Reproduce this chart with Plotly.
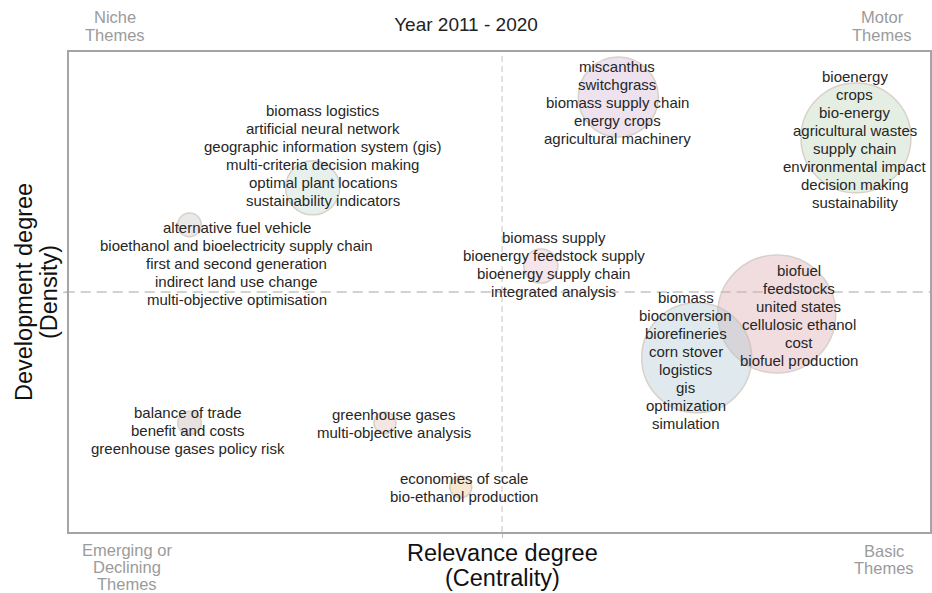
import plotly.graph_objects as go

# ---------------- data ----------------
cluster_labels = [
    ["biomass logistics", "artificial neural network", "geographic information system (gis)",
     "multi-criteria decision making", "optimal plant locations", "sustainability indicators"],
    ["alternative fuel vehicle", "bioethanol and bioelectricity supply chain",
     "first and second generation", "indirect land use change", "multi-objective optimisation"],
    ["miscanthus", "switchgrass", "biomass supply chain", "energy crops", "agricultural machinery"],
    ["bioenergy", "crops", "bio-energy", "agricultural wastes", "supply chain",
     "environmental impact", "decision making", "sustainability"],
    ["biomass supply", "bioenergy feedstock supply", "bioenergy supply chain", "integrated analysis"],
    ["biofuel", "feedstocks", "united states", "cellulosic ethanol", "cost", "biofuel production"],
    ["biomass", "bioconversion", "biorefineries", "corn stover", "logistics", "gis",
     "optimization", "simulation"],
    ["balance of trade", "benefit and costs", "greenhouse gases policy risk"],
    ["greenhouse gases", "multi-objective analysis"],
    ["economies of scale", "bio-ethanol production"],
]
centrality = [2.83, 1.40, 6.38, 9.14, 5.48, 8.22, 7.29, 1.40, 3.67, 4.55]
density = [7.17, 6.40, 9.06, 8.21, 5.54, 4.54, 3.63, 2.27, 2.27, 0.94]
frequency = [73, 14, 160, 302, 29, 348, 302, 14, 12, 12]
centrality_median = 5.03
density_median = 5.0

title_text = "Year 2011 - 2020"
x_title = ["Relevance degree", "(Centrality)"]
y_title = ["Development degree", "(Density)"]

# ---------------- styles ----------------
fill_colors = [
    "rgba(185,217,209,0.5)", "rgba(193,193,193,0.5)", "rgba(205,173,209,0.5)",
    "rgba(181,209,173,0.5)", "rgba(229,185,209,0.5)", "rgba(217,161,165,0.5)",
    "rgba(169,197,209,0.5)", "rgba(189,173,165,0.5)", "rgba(229,185,177,0.5)",
    "rgba(235,189,125,0.5)",
]
# label block offsets (pixels) relative to bubble centre: (dx right, dy up)
label_offsets = [(10, 32), (47, -39), (-1, -5), (-1, -2), (13, 2),
                 (22, -1), (-11, -3), (-2, -7), (9, 0), (3, -1)]
FONT = "Liberation Sans, Arial, Helvetica, sans-serif"
LINE_H = 18

fig = go.Figure()

fig.add_trace(go.Scatter(
    x=centrality, y=density, mode="markers",
    marker=dict(size=frequency, sizemode="area", sizeref=0.05,
                color=fill_colors, line=dict(color="rgb(200,190,180)", width=1.5)),
    hoverinfo="skip", showlegend=False,
))

# median lines
fig.add_shape(type="line", xref="paper", yref="y", x0=-0.005, x1=1, y0=density_median, y1=density_median,
              line=dict(color="rgb(195,195,195)", width=1.3, dash="10px,6px"), layer="below")
fig.add_shape(type="line", xref="x", yref="paper", x0=centrality_median, x1=centrality_median, y0=0, y1=1,
              line=dict(color="rgb(210,205,200)", width=1.2, dash="6px,4px"), layer="below")

annotations = []
for labels, cx, cy, (dx, dy) in zip(cluster_labels, centrality, density, label_offsets):
    n = len(labels)
    for i, t in enumerate(labels):
        annotations.append(dict(
            x=cx, y=cy, xref="x", yref="y", text=t, showarrow=False,
            xanchor="center", yanchor="middle",
            xshift=dx, yshift=dy + ((n - 1) / 2 - i) * LINE_H,
            font=dict(family=FONT, size=15, color="#262626"),
        ))

grey = "rgb(155,155,155)"
def qlabel(lines, xp, yp, xs, ys_list):
    for t, ys in zip(lines, ys_list):
        annotations.append(dict(x=xp, y=yp, xref="paper", yref="paper", text=t, showarrow=False,
                                xanchor="center", yanchor="middle", xshift=xs, yshift=ys,
                                font=dict(family=FONT, size=16.5, color=grey)))

qlabel(["Niche", "Themes"], 0, 1, 46, [35, 17])
qlabel(["Motor", "Themes"], 1, 1, -48, [35, 17])
qlabel(["Emerging or", "Declining", "Themes"], 0, 0, 58, [-18, -35, -52])
qlabel(["Basic", "Themes"], 1, 0, -46, [-19, -36])

# axis titles
for t, ys in zip(x_title, [-21, -46]):
    annotations.append(dict(x=centrality_median, y=0, xref="x", yref="paper", text=t, showarrow=False,
                            xanchor="center", yanchor="middle", yshift=ys,
                            font=dict(family=FONT, size=23.5, color="#111")))
for t, xs in zip(y_title, [-45, -20]):
    annotations.append(dict(x=0, y=0.5, xref="paper", yref="paper", text=t, showarrow=False,
                            xanchor="center", yanchor="middle", xshift=xs, textangle=-90,
                            font=dict(family=FONT, size=23.5, color="#111")))

fig.update_layout(
    width=932, height=593,
    margin=dict(l=69, r=0, t=52, b=61),
    paper_bgcolor="white", plot_bgcolor="white",
    title=dict(text=title_text, x=0.5, xref="container", y=1 - 24 / 593, yref="container",
               xanchor="center", yanchor="middle",
               font=dict(family=FONT, size=19, color="#222")),
    xaxis=dict(range=[0, 10], showgrid=False, zeroline=False, showline=True, mirror=True,
               linecolor="rgb(165,165,165)", linewidth=1.5, tickvals=[centrality_median],
               ticks="outside", ticklen=4, tickcolor="rgb(190,190,190)", showticklabels=False),
    yaxis=dict(range=[0, 10], showgrid=False, zeroline=False, showline=True, mirror=True,
               linecolor="rgb(165,165,165)", linewidth=1.5, tickvals=[density_median],
               ticks="outside", ticklen=4, tickcolor="rgb(190,190,190)", showticklabels=False),
    annotations=annotations,
    showlegend=False,
)

fig.write_html("out.html", config={"displayModeBar": False},
               post_script="document.body.style.margin='0';document.body.style.overflow='hidden';")
